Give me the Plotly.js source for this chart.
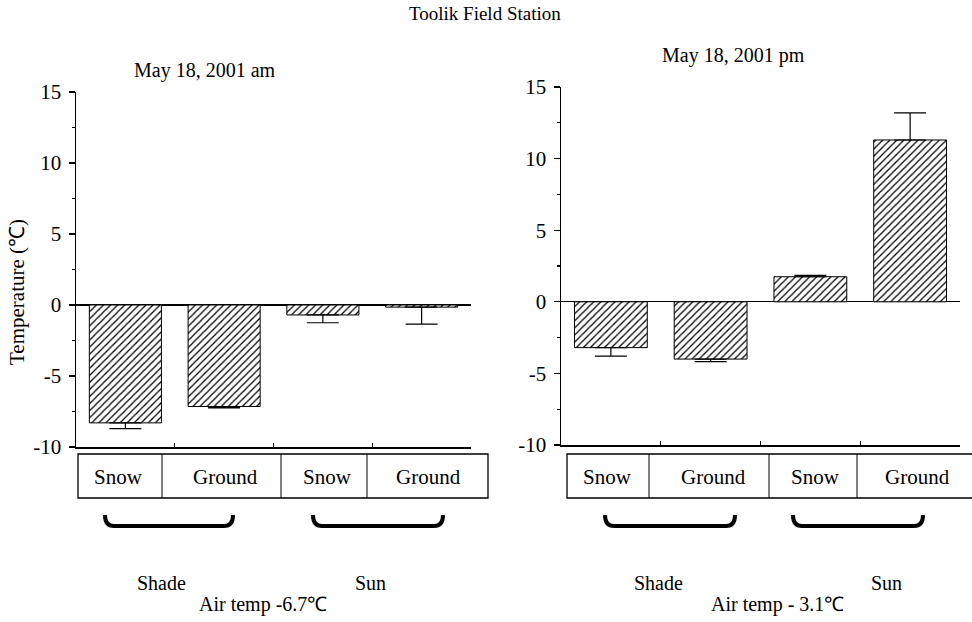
<!DOCTYPE html>
<html>
<head>
<meta charset="utf-8">
<script src="https://cdn.plot.ly/plotly-3.0.1.min.js"></script>
<style>html,body{margin:0;padding:0;background:#fff}#chart{width:972px;height:622px}</style>
</head>
<body>
<div id="chart"></div>
<script>
// ---- data ----
const categories = ["Shade Snow", "Shade Ground", "Sun Snow", "Sun Ground"];
const tableLabels = ["Snow", "Ground", "Snow", "Ground"];
const groupLabels = ["Shade", "Sun"];
const amValues = [-8.3, -7.15, -0.7, -0.15];
const amErrors = [0.4, 0.1, 0.55, 1.2];
const pmValues = [-3.2, -4.0, 1.75, 11.3];
const pmErrors = [0.6, 0.18, 0.1, 1.9];
const tickValues = [-10, -5, 0, 5, 10, 15];
const tickLabels = ["-10", "-5", "0", "5", "10", "15"];
const panelTitles = ["May 18, 2001 am", "May 18, 2001 pm"];
const airTemps = ["Air temp -6.7\u2103", "Air temp - 3.1\u2103"];
const mainTitle = "Toolik Field Station";
const yTitle = "Temperature (\u2103)";

// ---- helpers (layout positions in pixels -> paper) ----
const W = 972, H = 622;
const px = x => x / W;
const py = y => 1 - y / H;
const FONT = "Liberation Serif";

function barTrace(vals, errs, xa, ya) {
  return {
    type: "bar", x: categories, y: vals, xaxis: xa, yaxis: ya, width: 0.73,
    marker: {color: "white", line: {color: "black", width: 1},
             pattern: {shape: "/", fgcolor: "black", bgcolor: "white", size: 5, solidity: 0.25}},
    error_y: {type: "data", symmetric: false,
              array: vals.map((v, i) => v >= 0 ? errs[i] : 0),
              arrayminus: vals.map((v, i) => v < 0 ? errs[i] : 0),
              color: "black", thickness: 1.2, width: 16},
    hoverinfo: "x+y"
  };
}

const data = [barTrace(amValues, amErrors, "x", "y"), barTrace(pmValues, pmErrors, "x2", "y2")];

function xax(d0, d1, anchor) {
  return {domain: [px(d0), px(d1)], anchor: anchor, type: "category", showline: true, linecolor: "black",
          linewidth: 1.5, ticks: "inside", tickson: "boundaries", ticklen: 4, tickcolor: "black",
          showticklabels: false, showgrid: false, zeroline: false, fixedrange: true};
}
function yax(top, bottom, anchor) {
  return {domain: [py(bottom), py(top)], anchor: anchor, range: [-10, 15],
          tickmode: "array", tickvals: tickValues, ticktext: tickLabels,
          ticks: "outside", ticklen: 6, tickwidth: 1.3, tickcolor: "black", ticklabelstandoff: 3,
          minor: {dtick: 2.5, tick0: 0, ticks: "outside", ticklen: 3, tickcolor: "black", showgrid: false},
          showline: true, linecolor: "black", linewidth: 1.5, showgrid: false,
          zeroline: true, zerolinecolor: "black", zerolinewidth: 1.2,
          tickfont: {size: 21, family: FONT, color: "black"},
          fixedrange: true};
}

const shapes = [];
const annotations = [];
function ann(text, x, y, size, angle) {
  annotations.push({text: text, x: px(x), y: py(y), xref: "paper", yref: "paper",
                    showarrow: false, xanchor: "center", yanchor: "middle", textangle: angle || 0,
                    font: {size: size, family: FONT, color: "black"}});
}
function table(x0, x1, dividers, centers, brackets, groupCenters, airText, airX) {
  shapes.push({type: "rect", xref: "paper", yref: "paper", x0: px(x0), x1: px(x1), y0: py(498), y1: py(454),
               line: {color: "black", width: 1.3}});
  dividers.forEach(d => shapes.push({type: "line", xref: "paper", yref: "paper", x0: px(d), x1: px(d),
               y0: py(498), y1: py(454), line: {color: "black", width: 1}}));
  centers.forEach((c, i) => ann(tableLabels[i], c, 477, 21));
  brackets.forEach(b => {
    const [a, c] = b, t = 515, bt = 526, r = 9;
    const path = `M ${px(a)},${py(t)} Q ${px(a)},${py(bt)} ${px(a + r)},${py(bt)} L ${px(c - r)},${py(bt)} Q ${px(c)},${py(bt)} ${px(c)},${py(t)}`;
    shapes.push({type: "path", xref: "paper", yref: "paper", path: path, line: {color: "black", width: 4}});
  });
  groupCenters.forEach((g, i) => ann(groupLabels[i], g, 583, 20));
  ann(airText, airX, 604, 20);
}
table(78, 488, [162, 281, 367], [118, 225, 327, 428], [[105, 233], [313, 443]], [161, 370], airTemps[0], 263);
table(567, 980, [649, 769, 857], [607, 713, 815, 917], [[605, 735], [793, 923]], [658, 886], airTemps[1], 777);

ann(mainTitle, 485, 14, 19);
ann(panelTitles[0], 205, 71, 20);
ann(panelTitles[1], 733, 56, 20);
ann(yTitle, 17, 292, 21, -90);

const layout = {
  width: W, height: H, margin: {l: 0, r: 0, t: 0, b: 0},
  paper_bgcolor: "white", plot_bgcolor: "white", showlegend: false,
  font: {family: FONT, size: 17, color: "black"},
  xaxis: xax(76, 471, "y"), yaxis: yax(92, 447, "x"),
  xaxis2: xax(561, 960, "y2"), yaxis2: yax(87, 445, "x2"),
  bargap: 0.27, shapes: shapes, annotations: annotations
};
Plotly.newPlot("chart", data, layout, {displayModeBar: false, staticPlot: true});
</script>
</body>
</html>
